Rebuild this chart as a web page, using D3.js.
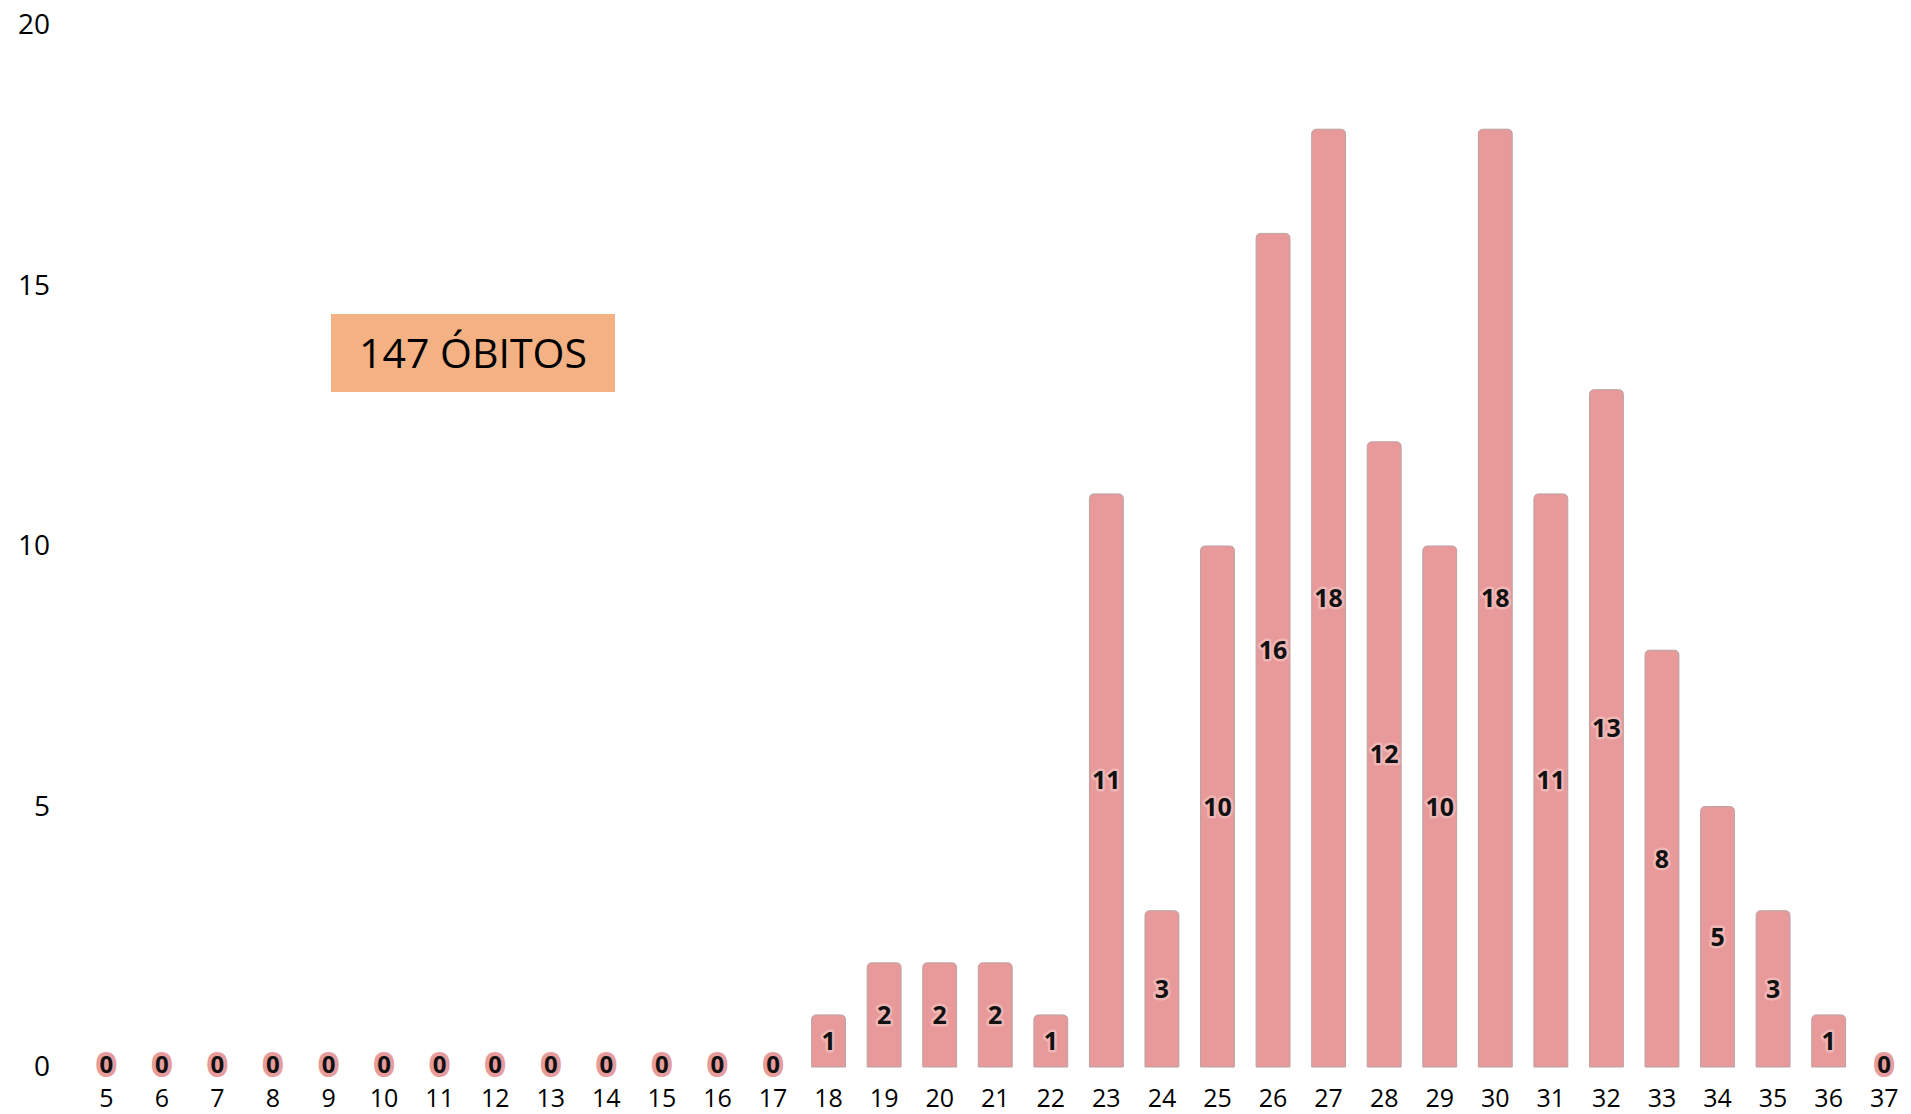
<!DOCTYPE html>
<html>
<head>
<meta charset="utf-8">
<script src="https://cdn.jsdelivr.net/npm/d3@7"></script>
<style>
  body { margin: 0; background: #fff; }
  svg { display: block; }
</style>
</head>
<body>
<svg id="chart"></svg>
<script>
// week numbers and deaths per week
var weeks = [5, 6, 7, 8, 9, 10, 11, 12, 13, 14, 15, 16, 17, 18, 19, 20, 21,
             22, 23, 24, 25, 26, 27, 28, 29, 30, 31, 32, 33, 34, 35, 36, 37];
var deaths = [0, 0, 0, 0, 0, 0, 0, 0, 0, 0, 0, 0, 0, 1, 2, 2, 2,
              1, 11, 3, 10, 16, 18, 12, 10, 18, 11, 13, 8, 5, 3, 1, 0];
var yTicks = [0, 5, 10, 15, 20];
var note = "147 ÓBITOS";

var w = 1911;
var h = 1114;

var svg = d3.select("#chart")
  .attr("width", w)
  .attr("height", h);

var xScale = d3.scaleBand()
  .domain(weeks)
  .range([78.5, 1912])
  .paddingInner(0.39)
  .paddingOuter(0.195);

var yScale = d3.scaleLinear()
  .domain([0, 20])
  .range([1067, 25]);

var data = weeks.map(function(wk, i) { return { week: wk, value: deaths[i] }; });

// bars with rounded top corners
var r = 5;
svg.selectAll("path.bar")
  .data(data.filter(function(d) { return d.value > 0; }))
  .enter()
  .append("path")
  .attr("class", "bar")
  .attr("d", function(d) {
    var x0 = xScale(d.week), x1 = x0 + xScale.bandwidth();
    var y0 = yScale(0), y1 = yScale(d.value);
    return "M" + x0 + "," + y0 +
      "V" + (y1 + r) +
      "Q" + x0 + "," + y1 + " " + (x0 + r) + "," + y1 +
      "H" + (x1 - r) +
      "Q" + x1 + "," + y1 + " " + x1 + "," + (y1 + r) +
      "V" + y0 + "Z";
  })
  .attr("fill", "#e89a9a")
  .attr("stroke", "#b9a3a3")
  .attr("stroke-width", 1);

// value labels in the middle of each bar (zeros sit on the baseline)
svg.selectAll("text.val")
  .data(data)
  .enter()
  .append("text")
  .attr("class", "val")
  .text(function(d) { return d.value; })
  .attr("x", function(d) { return xScale(d.week) + xScale.bandwidth() / 2; })
  .attr("y", function(d) { return yScale(d.value / 2) - (d.value === 0 ? 3 : 0); })
  .attr("dy", "0.36em")
  .attr("text-anchor", "middle")
  .attr("font-family", "Noto Sans, sans-serif")
  .attr("font-weight", "bold")
  .attr("font-size", function(d) { return d.value === 0 ? "24px" : "25px"; })
  .attr("fill", "#111")
  .attr("stroke", function(d) { return d.value === 0 ? "#e69c9c" : "#efb6b6"; })
  .attr("stroke-width", function(d) { return d.value === 0 ? 8 : 5; })
  .attr("stroke-linejoin", "round")
  .attr("paint-order", "stroke");

// y axis, labels only
var yAxis = d3.axisLeft(yScale).tickValues(yTicks).tickSize(0).tickPadding(0);
var gy = svg.append("g")
  .attr("transform", "translate(50,0)")
  .call(yAxis);
gy.select(".domain").remove();
gy.selectAll("text")
  .attr("font-family", "Open Sans, sans-serif")
  .attr("font-size", "28px")
  .attr("fill", "#000");

// x axis, labels only
var xAxis = d3.axisBottom(xScale).tickSize(0).tickPadding(0);
var gx = svg.append("g")
  .attr("transform", "translate(0,1089)")
  .call(xAxis);
gx.select(".domain").remove();
gx.selectAll("text")
  .attr("font-family", "Open Sans, sans-serif")
  .attr("font-size", "25px")
  .attr("fill", "#000");

// total annotation
svg.append("rect")
  .attr("x", 331)
  .attr("y", 314)
  .attr("width", 284)
  .attr("height", 78)
  .attr("fill", "#f4b183");

svg.append("text")
  .text(note)
  .attr("x", 473)
  .attr("y", 353)
  .attr("dy", "0.36em")
  .attr("text-anchor", "middle")
  .attr("font-family", "Open Sans, sans-serif")
  .attr("font-size", "41px")
  .attr("fill", "#000");
</script>
</body>
</html>
